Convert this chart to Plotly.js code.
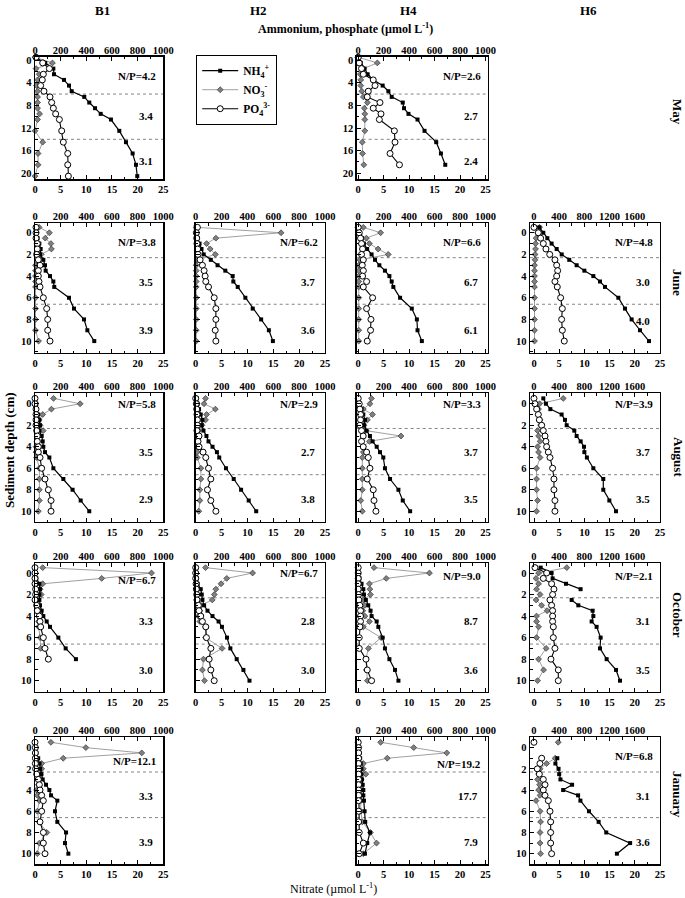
<!DOCTYPE html>
<html>
<head>
<meta charset="utf-8">
<script src="https://cdn.plot.ly/plotly-3.0.1.min.js"></script>
<style>html,body{margin:0;padding:0;background:#fff;}#chart{width:685px;height:898px;}</style>
</head>
<body>
<div id="chart"></div>
<script>
// ---------------- DATA ----------------
const rowNames = ['May', 'June', 'August', 'October', 'January'];
const colNames = ['B1', 'H2', 'H4', 'H6'];
const depthMay = [-0.5, 0.5, 1.5, 2.5, 3.5, 4.5, 5.5, 6.5, 7.5, 8.5, 9.5, 10.5, 12.5, 14.5, 16.5, 18.5, 20.5];
const depthStd = [-0.5, 0, 0.5, 1, 1.5, 2, 2.5, 3, 3.5, 4, 4.5, 5, 6, 7, 8, 9, 10];

// May
const nh4_May_B1 = [0, 80, 143, 148, 226, 265, 286, 384, 423, 468, 512, 592, 657, 709, 761, 787, 797];
const no3_May_B1 = [0, 3.4, 0.2, 0.8, 0.5, 0.3, 0.5, 0.5, 0.5, 0.5, 0.9, 0.5, 0, 1.5, 0.6, 0.6, 0];
const po4_May_B1 = [8, 60, 112, 65, 57, 44, 70, 117, 130, 143, 161, 190, 208, 221, 255, 255, 260];
const nh4_May_H4 = [0, 20, 50, 74, 118, 192, 237, 263, 350, 360, 395, 466, 521, 613, 650, 684, null];
const no3_May_H4 = [0, 3.75, 1.0, 0.4, 0.5, 0.5, 0.7, 1.0, 1.8, 1.2, 1.3, 1.3, 1.3, 0.8, 0.85, 1.1, null];
const po4_May_H4 = [0, 8, 26, 40, 118, 132, 79, 71, 171, 118, 179, 166, 284, 289, 250, 324, null];
// June
const nh4_Jun_B1 = [5, 10, 20, 34, 44, 39, 65, 78, 83, 117, 143, 150, 265, 304, 382, 408, 462];
const no3_Jun_B1 = [0.8, 2.8, 2.0, 3.1, 3.2, 1.2, 0.6, 0.1, 0.1, 0.1, 0.1, 0.1, 0.1, 0.1, 0.1, 0.1, 0.7];
const po4_Jun_B1 = [8, 8, 8, 18, 18, 13, 26, 39, 26, 26, 31, 39, 65, 91, 99, 99, 117];
const nh4_Jun_H2 = [0, 5, 15, 30, 45, 62, 117, 169, 229, 286, 291, 325, 384, 441, 506, 566, 597];
const no3_Jun_H2 = [0.2, 16.5, 3.9, 2.1, 2.8, 3.8, 0.3, 0.1, 0.1, 0.1, 0.1, 0.1, 0.1, 0.1, 0.1, 0.1, 0.1];
const po4_Jun_H2 = [13, 5, 8, 10, 15, 18, 34, 52, 65, 73, 78, 99, 143, 156, 156, 151, 156];
const nh4_Jun_H4 = [5, 15, 30, 45, 70, 105, 132, 166, 210, 245, 263, 276, 329, 421, 461, 466, 500];
const no3_Jun_H4 = [1.0, 4.4, 1.6, 2.2, 3.9, 5.9, 0.3, 0.1, 0.1, 0.1, 0.1, 0.1, 0.1, 0.1, 0.1, 0.1, 0.1];
const po4_Jun_H4 = [0, 8, 18, 26, 34, 26, 40, 32, 40, 34, 66, 40, 113, 66, 100, 97, 71];
const nh4_Jun_H6 = [85, 148, 212, 280, 360, 440, 560, 677, 800, 942, 1048, 1127, 1339, 1444, 1550, 1683, 1825];
const no3_Jun_H6 = [1.1, 0.7, 0.4, 0.3, 0.3, 0.2, 0.2, 0.1, 0.1, 0.1, 0.1, 0.1, 0.1, 0.1, 0.1, 0.1, 0.1];
const po4_Jun_H6 = [0, 69, 106, 148, 190, 250, 333, 360, 376, 360, 333, 370, 423, 450, 439, 450, 481];
// August
const nh4_Aug_B1 = [5, 10, 13, 25, 34, 39, 34, 52, 60, 65, 78, 112, 143, 221, 293, 356, 423];
const no3_Aug_B1 = [3.6, 8.8, 3.2, 1.5, 0.8, 1.0, 1.6, 0.65, 0.45, 0.2, 0.2, 0.3, 0.85, 0.85, 0.85, 0.85, 0.65];
const po4_Aug_B1 = [0, 0, 8, 8, 8, 8, 13, 18, 18, 26, 26, 39, 52, 78, 104, 125, 125];
const nh4_Aug_H2 = [8, 15, 26, 39, 52, 47, 60, 83, 99, 130, 164, 182, 234, 294, 351, 410, 468];
const no3_Aug_H2 = [1.9, 1.6, 3.8, 2.1, 1.9, 1.2, 0.6, 0.4, 0.3, 0.3, 0.3, 0.3, 1.0, 1.0, 0.8, 0.8, 0.6];
const po4_Aug_H2 = [0, 5, 8, 10, 13, 13, 10, 26, 18, 26, 57, 78, 99, 117, 91, 117, 156];
const nh4_Aug_H4 = [5, 10, 26, 40, 53, 47, 66, 92, 113, 145, 171, 197, 210, 250, 316, 350, 408];
const no3_Aug_H4 = [2.6, 2.3, 1.0, 2.8, 1.8, 1.1, 1.5, 8.4, 2.2, 1.0, 1.0, 0.8, 0.8, 0.8, 0.8, 0.5, 0.8];
const po4_Aug_H4 = [0, 8, 13, 18, 18, 13, 26, 39, 26, 39, 66, 79, 92, 71, 118, 124, 139];
const nh4_Aug_H6 = [148, 190, 260, 439, 492, 519, 640, 677, 741, 794, 800, 840, 942, 1100, 1100, 1196, 1302];
const no3_Aug_H6 = [5.8, 1.1, 0.9, 0.9, 1.2, 1.3, 0.7, 0.9, 1.2, 0.7, 0.9, 1.2, 0.5, 0.5, 0.5, 0.7, 0.5];
const po4_Aug_H6 = [0, 16, 42, 69, 85, 122, 148, 175, 190, 201, 228, 254, 296, 317, 317, 333, 333];
// October
const nh4_Oct_B1 = [5, 5, 10, 34, 39, 34, 34, 39, 52, 65, 91, 117, 182, 239, 319, null, null];
const no3_Oct_B1 = [1.5, 22.7, 13.0, 1.5, 1.0, 1.2, 0.5, 0.5, 0.7, 1.2, 0.7, 0.7, 1.0, 1.1, null, null, null];
const po4_Oct_B1 = [0, 0, 0, 0, 5, 5, 0, 13, 18, 34, 39, 44, 65, 78, 104, null, null];
const nh4_Oct_H2 = [5, 5, 10, 15, 39, 47, 52, 65, 91, 130, 177, 203, 242, 268, 317, 369, 416];
const no3_Oct_H2 = [1.9, 11.0, 6.0, 4.9, 3.9, 3.6, 3.2, 1.0, 0.8, 0.5, 0.8, 1.9, 1.9, 5.1, 1.5, 1.3, 1.7];
const po4_Oct_H2 = [0, 0, 0, 3, 5, 8, 10, 21, 26, 39, 52, 78, 83, 117, 104, 117, 143];
const nh4_Oct_H4 = [0, 5, 10, 26, 40, 45, 60, 79, 97, 105, 145, 158, 192, 210, 245, 289, 316];
const no3_Oct_H4 = [3.1, 14.0, 5.5, 2.2, 2.3, 2.4, 1.0, 1.3, 0.9, 1.3, 2.2, 1.0, 4.5, 2.0, 1.5, 1.6, 1.8];
const po4_Oct_H4 = [0, 0, 0, 0, 0, 3, 5, 13, 18, 18, 18, 13, 8, 8, 61, 71, 105];
const nh4_Oct_H6 = [106, 280, 296, 508, 740, null, 598, 704, 931, 942, 915, 994, 1058, 1048, 1153, 1302, 1365];
const no3_Oct_H6 = [6.5, 0.9, 0.4, 0.9, 0.5, 1.2, 0.4, 1.5, 2.6, 0.5, 0.5, 0.9, 0.5, 2.4, 0.9, 1.9, 0.7];
const po4_Oct_H6 = [16, 201, 148, 280, 317, 296, 254, 280, 296, 296, 296, 307, 307, 333, 270, 386, 386];
// January
const nh4_Jan_B1 = [0, 5, 10, 25, 35, 40, 50, 60, 86, 112, 125, 174, 156, 174, 242, 234, 260];
const no3_Jan_B1 = [3.1, 9.9, 20.8, 5.5, 1.3, 1.3, 1.0, 0.5, 0.65, 0.3, 0.45, 0.85, 0.45, 0.85, 2.3, 0.85, 0.45];
const po4_Jan_B1 = [0, 3, 3, 3, 3, 5, 13, 26, 34, 39, 52, 65, 52, 39, 65, 65, 78];
const nh4_Jan_H4 = [0, 5, 10, 15, 20, 25, 25, 30, 35, 40, 40, 45, 50, 55, 92, 71, 53];
const no3_Jan_H4 = [4.4, 10.9, 17.4, 5.7, 1.0, 1.0, 1.5, 0.5, 0.5, 0.5, 0.5, 0.5, 0.5, 0.8, 2.4, 3.6, 1.0];
const po4_Jan_H4 = [0, 3, 3, 3, 3, 3, 3, 3, 3, 3, 3, 3, 3, 3, 8, 40, 8];
const nh4_Jan_H6 = [null, null, null, 370, 340, 390, 400, 420, 605, 463, 700, 737, 873, 1026, 1147, 1526, 1316];
const no3_Jan_H6 = [4.8, null, null, 4.2, 2.5, 1.2, 0.9, 0.7, 1.1, 0.9, 1.2, 0.4, 1.2, 1.3, 1.2, 1.2, 1.3];
const po4_Jan_H6 = [0, null, null, 122, 95, 53, 85, 148, 175, 148, 175, 228, 254, 265, 265, 265, 280];

// N/P ratio labels (top, middle, bottom layer)
const np_May_B1 = ['N/P=4.2', '3.4', '3.1'];
const np_May_H4 = ['N/P=2.6', '2.7', '2.4'];
const np_Jun_B1 = ['N/P=3.8', '3.5', '3.9'];
const np_Jun_H2 = ['N/P=6.2', '3.7', '3.6'];
const np_Jun_H4 = ['N/P=6.6', '6.7', '6.1'];
const np_Jun_H6 = ['N/P=4.8', '3.0', '4.0'];
const np_Aug_B1 = ['N/P=5.8', '3.5', '2.9'];
const np_Aug_H2 = ['N/P=2.9', '2.7', '3.8'];
const np_Aug_H4 = ['N/P=3.3', '3.7', '3.5'];
const np_Aug_H6 = ['N/P=3.9', '3.7', '3.5'];
const np_Oct_B1 = ['N/P=6.7', '3.3', '3.0'];
const np_Oct_H2 = ['N/P=6.7', '2.8', '3.0'];
const np_Oct_H4 = ['N/P=9.0', '8.7', '3.6'];
const np_Oct_H6 = ['N/P=2.1', '3.1', '3.5'];
const np_Jan_B1 = ['N/P=12.1', '3.3', '3.9'];
const np_Jan_H4 = ['N/P=19.2', '17.7', '7.9'];
const np_Jan_H6 = ['N/P=6.8', '3.1', '3.6'];

const seriesNames = ['NH<sub>4</sub><sup>+</sup>', 'NO<sub>3</sub><sup>-</sup>', 'PO<sub>4</sub><sup>3-</sup>'];

// ---------------- PANELS ----------------
const panels = [
  {r: 0, c: 0, nh4: nh4_May_B1, no3: no3_May_B1, po4: po4_May_B1, np: np_May_B1, npY: [2.8, 9.9, 17.9]},
  {r: 0, c: 2, nh4: nh4_May_H4, no3: no3_May_H4, po4: po4_May_H4, np: np_May_H4, npY: [2.8, 9.9, 17.9]},
  {r: 1, c: 0, nh4: nh4_Jun_B1, no3: no3_Jun_B1, po4: po4_Jun_B1, np: np_Jun_B1, npY: [0.85, 4.5, 8.95]},
  {r: 1, c: 1, nh4: nh4_Jun_H2, no3: no3_Jun_H2, po4: po4_Jun_H2, np: np_Jun_H2, npY: [0.85, 4.5, 8.95]},
  {r: 1, c: 2, nh4: nh4_Jun_H4, no3: no3_Jun_H4, po4: po4_Jun_H4, np: np_Jun_H4, npY: [0.85, 4.5, 8.95]},
  {r: 1, c: 3, nh4: nh4_Jun_H6, no3: no3_Jun_H6, po4: po4_Jun_H6, np: np_Jun_H6, npY: [0.85, 4.5, 8.1]},
  {r: 2, c: 0, nh4: nh4_Aug_B1, no3: no3_Aug_B1, po4: po4_Aug_B1, np: np_Aug_B1, npY: [0.05, 4.5, 8.9]},
  {r: 2, c: 1, nh4: nh4_Aug_H2, no3: no3_Aug_H2, po4: po4_Aug_H2, np: np_Aug_H2, npY: [0.05, 4.5, 8.9]},
  {r: 2, c: 2, nh4: nh4_Aug_H4, no3: no3_Aug_H4, po4: po4_Aug_H4, np: np_Aug_H4, npY: [0.05, 4.5, 8.9]},
  {r: 2, c: 3, nh4: nh4_Aug_H6, no3: no3_Aug_H6, po4: po4_Aug_H6, np: np_Aug_H6, npY: [0.05, 4.5, 8.9]},
  {r: 3, c: 0, nh4: nh4_Oct_B1, no3: no3_Oct_B1, po4: po4_Oct_B1, np: np_Oct_B1, npY: [0.65, 4.5, 9.0]},
  {r: 3, c: 1, nh4: nh4_Oct_H2, no3: no3_Oct_H2, po4: po4_Oct_H2, np: np_Oct_H2, npY: [0.0, 4.5, 9.0]},
  {r: 3, c: 2, nh4: nh4_Oct_H4, no3: no3_Oct_H4, po4: po4_Oct_H4, np: np_Oct_H4, npY: [0.3, 4.5, 9.0]},
  {r: 3, c: 3, nh4: nh4_Oct_H6, no3: no3_Oct_H6, po4: po4_Oct_H6, np: np_Oct_H6, npY: [0.3, 4.5, 9.0]},
  {r: 4, c: 0, nh4: nh4_Jan_B1, no3: no3_Jan_B1, po4: po4_Jan_B1, np: np_Jan_B1, npY: [1.25, 4.56, 8.94]},
  {r: 4, c: 2, nh4: nh4_Jan_H4, no3: no3_Jan_H4, po4: po4_Jan_H4, np: np_Jan_H4, npY: [1.56, 4.56, 8.94]},
  {r: 4, c: 3, nh4: nh4_Jan_H6, no3: no3_Jan_H6, po4: po4_Jan_H6, np: np_Jan_H6, npY: [0.8, 4.56, 8.94]}
];

// ---------------- GEOMETRY / STYLE ----------------
const W = 685, H = 898;
const px = v => v / W;
const py = v => 1 - v / H;
const colX = [[35, 163.3], [195.7, 325], [356.7, 487.5], [530, 660]];
const colBot = [[0, 25], [0, 25], [-0.3, 25.4], [-0.8, 25]];
const colTop = [[0, 1000], [0, 1000], [-12, 1016], [-63, 2000]];
const rowY = [[56.7, 179.3], [223, 353], [393, 522], [563, 692], [737, 864.3]];
const rowRange = [[-0.6, 21.06], [-0.9, 11.1], [-1, 11], [-0.93, 11.05], [-1, 11]];
const rowDots = [[6, 14], [2.3, 6.6], [2.3, 6.6], [2.3, 6.6], [2.3, 6.6]];
const FONT = 'Liberation Serif';
const tickFont = {family: FONT, size: 10.5, color: '#000', weight: 'bold'};

const ax = n => (n === 1 ? '' : String(n));
const traces = [];
const layout = {
  width: W, height: H, margin: {l: 0, r: 0, t: 0, b: 0},
  paper_bgcolor: '#fff', plot_bgcolor: '#fff',
  showlegend: true,
  legend: {x: px(196), y: py(55), xanchor: 'left', yanchor: 'top', bgcolor: '#fff',
           bordercolor: '#000', borderwidth: 1.2, font: {family: FONT, size: 11.5, color: '#000', weight: 'bold'},
           itemwidth: 36, tracegroupgap: 0, traceorder: 'normal'},
  annotations: [], shapes: []
};

panels.forEach((p, k) => {
  const xb = 2 * k + 1, xt = 2 * k + 2, yn = k + 1;
  const depth = p.r === 0 ? depthMay : depthStd;
  const cx = colX[p.c], ry = rowY[p.r];
  const yLabels = p.c === 0 || p.c === 3 || (p.c === 2 && p.r === 0);
  const first = k === 0;
  const yref = 'y' + ax(yn);

  layout['xaxis' + ax(xb)] = {
    domain: [px(cx[0]), px(cx[1])], anchor: yref, side: 'bottom', range: colBot[p.c],
    showline: true, mirror: true, linecolor: '#000', linewidth: 1.4,
    ticks: 'inside', ticklen: 4, tickwidth: 1, tickcolor: '#000', tick0: 0, dtick: 5,
    minor: {ticks: 'inside', ticklen: 2.5, tickcolor: '#000', dtick: 2.5, showgrid: false},
    showgrid: false, zeroline: false, tickfont: tickFont, fixedrange: true
  };
  const topAx = {
    overlaying: 'x' + ax(xb), anchor: yref, side: 'top', range: colTop[p.c],
    showline: false, ticks: 'inside', ticklen: 4, tickwidth: 1, tickcolor: '#000',
    showgrid: false, zeroline: false, tickfont: tickFont, fixedrange: true
  };
  if (p.c === 3) {
    topAx.tickvals = [0, 400, 800, 1200, 1600];
    topAx.minor = {ticks: 'inside', ticklen: 2.5, tickcolor: '#000', tick0: 0, dtick: 200, showgrid: false};
  } else {
    topAx.tick0 = 0; topAx.dtick = 200;
    topAx.minor = {ticks: 'inside', ticklen: 2.5, tickcolor: '#000', dtick: 100, showgrid: false};
  }
  layout['xaxis' + ax(xt)] = topAx;
  const rr = rowRange[p.r];
  layout['yaxis' + ax(yn)] = {
    domain: [py(ry[1]), py(ry[0])], anchor: 'x' + ax(xb), range: [rr[1], rr[0]],
    showline: true, mirror: true, linecolor: '#000', linewidth: 1.4,
    ticks: 'inside', ticklen: 4, tickwidth: 1, tickcolor: '#000',
    tick0: 0, dtick: p.r === 0 ? 4 : 2,
    minor: {ticks: 'inside', ticklen: 2.5, tickcolor: '#000', dtick: p.r === 0 ? 2 : 1, showgrid: false},
    showticklabels: yLabels, showgrid: false, zeroline: false, tickfont: tickFont, fixedrange: true
  };

  traces.push({
    type: 'scatter', mode: 'lines+markers', x: p.no3, y: depth,
    xaxis: 'x' + ax(xb), yaxis: yref, name: seriesNames[1], legendrank: 2,
    showlegend: first, cliponaxis: false,
    line: {color: '#a0a0a0', width: 1},
    marker: {symbol: 'diamond', size: 4.5, color: '#808080', line: {color: '#333', width: 0.7}}
  });
  traces.push({
    type: 'scatter', mode: 'lines+markers', x: p.nh4, y: depth,
    xaxis: 'x' + ax(xt), yaxis: yref, name: seriesNames[0], legendrank: 1,
    showlegend: first, cliponaxis: false,
    line: {color: '#000', width: 1.2},
    marker: {symbol: 'square', size: 4, color: '#000'}
  });
  traces.push({
    type: 'scatter', mode: 'lines+markers', x: p.po4, y: depth,
    xaxis: 'x' + ax(xt), yaxis: yref, name: seriesNames[2], legendrank: 3,
    showlegend: first, cliponaxis: false,
    line: {color: '#000', width: 1.1},
    marker: {symbol: 'circle', size: 6, color: '#fff', line: {color: '#000', width: 1}}
  });

  rowDots[p.r].forEach(d => {
    layout.shapes.push({type: 'line', xref: 'x' + ax(xb) + ' domain', yref: yref,
      x0: 0, x1: 1, y0: d, y1: d, line: {color: '#666', width: 0.8, dash: 'dot'}, layer: 'below'});
  });
  p.np.forEach((t, i) => {
    layout.annotations.push({xref: 'x' + ax(xb) + ' domain', yref: yref, x: 1, y: p.npY[i],
      xanchor: 'right', yanchor: 'middle', xshift: i === 0 ? -5 : -8, showarrow: false,
      text: t, font: {family: FONT, size: 11, color: '#000', weight: 'bold'}});
  });
});

function label(text, x, y, size, angle) {
  layout.annotations.push({xref: 'paper', yref: 'paper', x: px(x), y: py(y), xanchor: 'center', yanchor: 'middle',
    text: text, textangle: angle || 0, showarrow: false, font: {family: FONT, size: size, color: '#000'}});
}
// Column titles
const colTitleX = [102, 258, 408, 588];
colNames.forEach((t, i) => label('<b>' + t + '</b>', colTitleX[i], 10, 13));
// Row titles
const rowTitleY = [112, 282, 457, 615, 794];
rowNames.forEach((t, i) => label('<b>' + t + '</b>', 678, rowTitleY[i], 13, 90));
// Axis titles
label('<b>Ammonium, phosphate (µmol L<sup>-1</sup>)</b>', 345, 28, 12);
label('Nitrate (µmol L<sup>-1</sup>)', 333, 888, 12);
label('<b>Sediment depth (cm)</b>', 9, 450, 13, -90);

Plotly.newPlot('chart', traces, layout, {staticPlot: true, displayModeBar: false});
</script>
</body>
</html>
